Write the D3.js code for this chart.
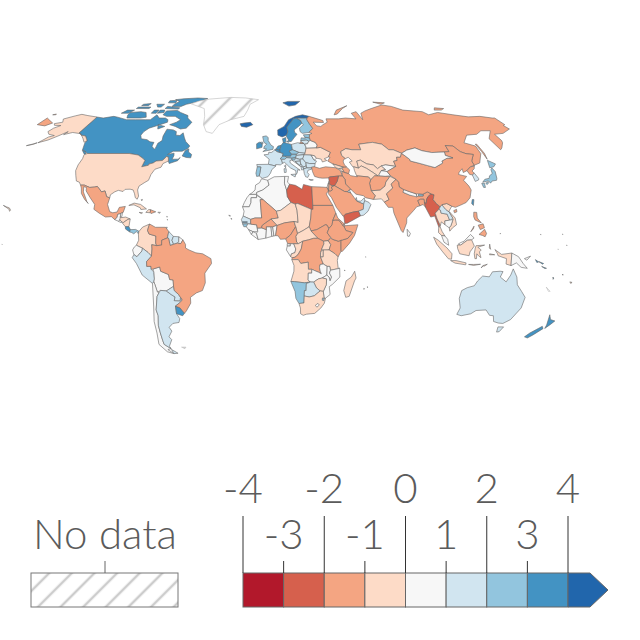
<!DOCTYPE html>
<html>
<head>
<meta charset="utf-8">
<script src="https://cdn.jsdelivr.net/npm/d3@7"></script>
<style>
  html, body { margin: 0; background: #fff; }
  text { font-family: Lato, sans-serif; font-weight: 300; fill: #5b5b5b; }
</style>
</head>
<body>
<div id="chart"></div>
<script>
// values (middle of the colour bin), null = no data
const americas = [
  ["Canada",3.5],["United States",-0.5],["Mexico",-1.5],["Guatemala",0.5],["Belize",0.5],["Honduras",-0.5],
  ["El Salvador",0.5],["Nicaragua",-0.5],["Costa Rica",3.5],["Panama",2.5],["Cuba",-0.5],["Jamaica",-0.5],
  ["Haiti",-0.5],["Dominican Republic",-1.5],["Puerto Rico",0.5],["Colombia",-0.5],["Venezuela",-1.5],
  ["Guyana",1.5],["Suriname",1.5],["French Guiana",0.5],["Ecuador",0.5],["Peru",1.5],["Bolivia",0.5],
  ["Chile",0.5],["Argentina",1.5],["Paraguay",1.5],["Uruguay",3.5],["Brazil",-1.5],["Greenland",null],["Falkland Islands",null]
];
const europe = [
  ["Iceland",4.5],["Svalbard",4.5],["Norway",4.5],["Sweden",3.5],["Finland",2.5],["Denmark",3.5],["United Kingdom",2.5],
  ["Ireland",3.5],["France",1.5],["Spain",1.5],["Portugal",2.5],["Belgium",3.5],["Netherlands",3.5],["Germany",3.5],
  ["Switzerland",2.5],["Austria",2.5],["Italy",1.5],["Poland",1.5],["Czechia",2.5],["Slovakia",1.5],["Hungary",1.5],
  ["Romania",1.5],["Moldova",0.5],["Bulgaria",1.5],["Serbia",1.5],["Croatia",1.5],["Bosnia",1.5],["Slovenia",2.5],
  ["Albania",1.5],["North Macedonia",1.5],["Montenegro",1.5],["Greece",1.5],["Lithuania",1.5],["Latvia",2.5],
  ["Estonia",2.5],["Belarus",0.5],["Ukraine",-0.5],["Russia",-1.5]
];
const asia = [
  ["Turkey",-1.5],["Georgia",-0.5],["Armenia",-0.5],["Azerbaijan",-1.5],["Kazakhstan",-0.5],["Uzbekistan",-0.5],
  ["Turkmenistan",-0.5],["Kyrgyzstan",0.5],["Tajikistan",0.5],["Afghanistan",-1.5],["Pakistan",-0.5],["Iran",-1.5],
  ["Iraq",-1.5],["Syria",-2.5],["Lebanon",-0.5],["Israel",-0.5],["Jordan",-1.5],["Saudi Arabia",-1.5],["Kuwait",1.5],
  ["United Arab Emirates",1.5],["Qatar",1.5],["Oman",1.5],["Yemen",-2.5],["India",-1.5],["Nepal",0.5],["Bhutan",2.5],
  ["Bangladesh",-1.5],["Sri Lanka",0.5],["Myanmar",-2.5],["Thailand",-0.5],["Laos",1.5],["Vietnam",-0.5],["Cambodia",0.5],
  ["Malaysia",0.5],["Indonesia",-0.5],["East Timor",-0.5],["Philippines",-1.5],["Taiwan",3.5],["China",-1.5],["Mongolia",0.5],
  ["North Korea",-1.5],["South Korea",1.5],["Japan",2.5]
];
const africa = [
  ["Morocco",0.5],["Western Sahara",0.5],["Algeria",0.5],["Tunisia",0.5],["Libya",-2.5],["Egypt",-1.5],["Mauritania",0.5],
  ["Senegal",1.5],["Gambia",3.5],["Guinea-Bissau",2.5],["Guinea",0.5],["Sierra Leone",0.5],["Liberia",0.5],["Ivory Coast",0.5],
  ["Ghana",0.5],["Togo",0.5],["Benin",0.5],["Burkina Faso",-1.5],["Mali",-1.5],["Niger",-0.5],["Nigeria",-1.5],["Chad",-0.5],
  ["Sudan",-1.5],["South Sudan",-1.5],["Central African Republic",-0.5],["Cameroon",-1.5],["Equatorial Guinea",0.5],["Gabon",0.5],
  ["Congo",-0.5],["DR Congo",-1.5],["Uganda",-0.5],["Kenya",-1.5],["Somalia",-1.5],["Ethiopia",-1.5],["Eritrea",-1.5],["Djibouti",-1.5],
  ["Tanzania",-0.5],["Rwanda",-0.5],["Angola",-0.5],["Zambia",0.5],["Malawi",0.5],["Mozambique",0.5],["Zimbabwe",-0.5],
  ["Namibia",2.5],["Botswana",1.5],["South Africa",-0.5],["Lesotho",0.5],["Eswatini",2.5],["Madagascar",-0.5],["Cape Verde",0.5]
];
const oceania = [
  ["Australia",1.5],["New Zealand",3.5],["Papua New Guinea",0.5],["Solomon Islands",3.5],["Vanuatu",3.5],["Fiji",-0.5],["New Caledonia",null],
  ["Small islands",0.5]
];
const tickValues = [-4,-3,-2,-1,0,1,2,3,4];
const binColors = ["#b2182b","#d6604d","#f4a582","#fddbc7","#f7f7f7","#d1e5f0","#92c5de","#4393c3","#2166ac"];
const noDataLabel = "No data";

// country outlines, "lon,lat lon,lat ..." one string per ring
const outlines = {
"Canada":["-141,69.6 -135,69 -128,70 -124,69.5 -115,68 -108,68 -100,68 -96,68 -94,71 -90,69 -85,69 -82,68 -81,66.5 -87,64.5 -92,63 -94,61 -94.5,59 -92.5,57 -88,56.5 -85,55.3 -82,55 -82,52.9 -79.5,51.3 -79,52 -79,54.5 -77,56 -78,58.5 -78,62.4 -73,62 -70,61 -69,59 -66,58.8 -64.5,60.3 -62,57.5 -60,55.5 -56,53 -57,51.5 -60,50.2 -66,50.2 -69,48.5 -65,49.2 -64.5,47.8 -65,46 -61,46 -60,46.9 -61,45.2 -66,43.7 -67,45 -67.8,47 -69.2,47.4 -71,45.3 -75,45 -76.5,44 -79,43.4 -79,42.8 -83,42 -82.5,45.3 -84.5,46.5 -88.5,48.2 -95,49 -123,49 -125,50 -128,51 -130,54.5 -130,56 -134,58.5 -137.5,59 -141,60.3",
"-62,66 -64,63 -68,62.5 -73,64 -78,65 -74,66.5 -72,68 -78,70 -85,70 -89,71 -89,73.5 -80,73.8 -76,72.5 -68,70.5 -67,69 -62,66.5","-105,69 -116,69 -118,71 -118,72.5 -110,73 -105,72.5 -101,69.5","-125,72 -123,74 -117,74 -119,72","-88,76.5 -80,76.5 -77,78 -72,79 -65,81 -62,82.5 -72,83 -85,82.3 -92,81.5 -86,80 -88,78","-92,75 -80,74.7 -80,75.6 -92,76.5","-95,72 -90,72.5 -91,74 -95,74","-117,75 -106,75 -106,76 -117,76","-95,79 -88,79 -90,81 -96,80.5","-59,47.7 -56,46.9 -53,46.7 -53,48.5 -55.5,49.8 -56,51.5 -58,50.5","-128,50.8 -125,50 -123.5,48.5 -125,48.8","-87,65 -81,64 -85,62.5","-100,72 -96,72 -96,74 -100,74","-104,78 -100,76 -97,76 -97,78","-116,77 -110,77 -110,78.5 -116,78"],
"United States":["-123,49 -95,49 -88.5,48.2 -84.5,46.5 -82.5,45.3 -83,42 -79,42.8 -79,43.4 -76.5,44 -75,45 -71,45.3 -69.2,47.4 -67.8,47 -67,45 -70,43.7 -70.5,41.8 -74,40.7 -75.5,38 -76,35 -78,33.9 -81,32 -81.3,30 -80,26.8 -80.5,25.2 -81.8,26 -82.7,28 -84,30 -86,30.4 -89,30.3 -90,29.2 -93,29.8 -95,29 -97.2,27.5 -97.2,25.9 -99.2,26.5 -101,29.5 -103,29 -104.8,30.5 -106.5,31.8 -108.2,31.5 -111,31.3 -114.8,32.5 -117.1,32.5 -118.5,34 -120.6,34.6 -122.5,37.5 -124,40 -124.5,43 -124,46.3 -124.7,48.4",
"-141,69.6 -141,60.3 -137.5,59 -134,58.5 -130,56 -131,55 -134,57 -139,59.8 -146,60.5 -151,59.3 -150,61 -154,58.5 -158,56.3 -163,54.8 -160,58 -157,58.8 -162,59.5 -165,61 -164,63 -161,64.5 -166,64.6 -168,65.6 -163,66.5 -166,68.4 -160,70.3 -156.5,71.3 -150,70.5","-169,53.2 -165,54 -163.5,54.8 -166,54","-160,22 -158,21.3 -156,20.7 -155,19.5 -155.5,19 -156,20"],
"Mexico":["-117.1,32.5 -114.8,32.5 -111,31.3 -108.2,31.5 -106.5,31.8 -104.8,30.5 -103,29 -101,29.5 -99.2,26.5 -97.2,25.9 -97.8,22.5 -95.9,18.8 -94,18.2 -91.5,18.6 -90.5,21 -87,21.5 -87.8,18.4 -89.1,17.9 -91,17.3 -91,16 -92.2,14.6 -94.5,16.2 -98,16 -102,18 -105.5,20 -105.5,22.5 -109,26 -112.5,29.5 -113,31.3 -114.8,31.7 -114,29 -110.5,24 -109.5,23 -112,25 -115,28.2 -116,31"],
"Guatemala":["-92.2,14.6 -91,16 -91,17.3 -89.1,17.9 -89.2,15.9 -88.3,15.7 -89.3,14.4 -90,13.8"],
"Belize":["-89.1,17.9 -88.2,18.4 -88.3,16.2 -89.2,15.9"],
"Honduras":["-89.2,15.9 -88.3,15.7 -86,16 -83.2,15 -84.5,14.8 -87,13.2 -87.7,13.3 -89.3,14.4"],
"El Salvador":["-90,13.8 -89.3,14.4 -87.7,13.3 -88.8,13.2"],
"Nicaragua":["-87,13.2 -84.5,14.8 -83.2,15 -83.6,11 -85.7,11 -87.5,12.8"],
"Costa Rica":["-85.7,11 -83.6,11 -82.6,9.5 -83,8.3 -85.5,9.8"],
"Panama":["-83,8.3 -82.6,9.5 -79.5,9.6 -77.5,8.6 -77.8,7.3 -79,8.5 -80.5,7.3 -81.8,8"],
"Cuba":["-85,22 -82,23.2 -78,22.5 -74.2,20.2 -77.5,19.9 -78,20.8 -82,22.3"],
"Jamaica":["-78.3,18.4 -76.3,18.2 -77,17.8"],
"Haiti":["-74.4,18.4 -72.8,19.9 -71.7,19.8 -71.7,18.2"],
"Dominican Republic":["-71.7,19.8 -68.5,18.7 -71.2,17.8 -71.7,18.2"],
"Puerto Rico":["-67.2,18.5 -65.7,18.4 -66.5,17.9"],
"Colombia":["-77.5,8.6 -75.5,10.8 -71.5,12.4 -72,11 -72.5,9 -71.5,7.2 -67.5,6.2 -67.5,2.5 -66.9,1.2 -69.8,1.7 -69.6,-0.5 -70,-4.2 -72,-2.3 -75.2,-0.1 -78.8,1.4 -77.5,4 -77.8,7.3"],
"Venezuela":["-71.5,12.4 -68,10.7 -62,10.7 -60,8.5 -60.7,5.2 -64,4 -64,1.5 -66.9,1.2 -67.5,2.5 -67.5,6.2 -71.5,7.2 -72.5,9 -72,11"],
"Guyana":["-60,8.5 -57.2,6 -58,4 -57,1.9 -59,1.3 -60,5 -60.7,5.2"],
"Suriname":["-57.2,6 -54,5.8 -54,3.5 -55,2.5 -57,1.9 -58,4"],
"French Guiana":["-54,5.8 -51.6,4.2 -52.8,2.3 -54,2.3 -54,3.5"],
"Ecuador":["-78.8,1.4 -75.2,-0.1 -75.5,-1.5 -78.5,-4.5 -80.3,-3.4 -81,-1 -80,0.5"],
"Peru":["-80.3,-3.4 -78.5,-4.5 -75.5,-1.5 -75.2,-0.1 -72,-2.3 -70,-4.2 -73,-7 -73,-9.5 -70.5,-9.5 -70.5,-11 -69,-12.5 -69,-16 -69.5,-17.5 -70.4,-18.3 -76,-14 -79,-8 -81.3,-5"],
"Bolivia":["-69.5,-10.9 -65.4,-9.8 -65,-12 -60.5,-13.7 -60,-16.3 -58,-16.5 -58,-19.8 -62.6,-22.2 -66,-21.9 -68,-22.8 -69,-19 -69.5,-17.5 -69,-16 -69,-12.5"],
"Chile":["-69.5,-17.5 -69,-19 -68,-22.8 -67,-23 -68.5,-25 -70.5,-32 -70,-35 -71.5,-40 -71.8,-44 -72,-48 -72,-50 -68.5,-52.3 -71,-52.8 -68,-55 -72,-54 -75.5,-50 -74,-44 -73.5,-38 -71.5,-30 -70.4,-18.3"],
"Argentina":["-66,-21.9 -62.6,-22.2 -60,-24 -57.7,-25.3 -58.5,-27.2 -55,-27.3 -54.5,-25.5 -54,-26 -53.7,-27 -55.7,-28.5 -58.2,-30 -58.4,-34 -57,-36.5 -58,-38.5 -62,-39 -65,-41 -64,-43 -67,-46 -65.8,-47.5 -69,-51 -68.5,-52.3 -72,-50 -72,-48 -71.8,-44 -71.5,-40 -70,-35 -70.5,-32 -68.5,-25 -67,-23","-68.5,-52.7 -65,-54.8 -68,-55"],
"Paraguay":["-58,-19.8 -57.8,-22 -55.5,-24 -54.5,-25.5 -55,-27.3 -58.5,-27.2 -57.7,-25.3 -60,-24 -62.6,-22.2"],
"Uruguay":["-58.2,-30 -55.7,-30.9 -53.4,-33.7 -54.8,-35 -58.4,-34"],
"Brazil":["-60,5 -59,1.3 -57,1.9 -55,2.5 -54,2.3 -52.8,2.3 -51.6,4.2 -50,1.8 -50,0 -48,-1 -44,-2.5 -40,-3 -35.2,-5.5 -34.9,-8 -39,-13 -39,-18 -41,-22 -44.7,-23.2 -48.5,-25.5 -48.7,-28.5 -52,-32.5 -53.4,-33.7 -55.7,-30.9 -58.2,-30 -55.7,-28.5 -53.7,-27 -54,-26 -54.5,-25.5 -55.5,-24 -57.8,-22 -58,-19.8 -58,-16.5 -60,-16.3 -60.5,-13.7 -65,-12 -65.4,-9.8 -69.5,-10.9 -70.5,-11 -70.5,-9.5 -73,-9.5 -73,-7 -70,-4.2 -69.6,-0.5 -69.8,1.7 -66.9,1.2 -64,1.5 -64,4 -60.7,5.2"],
"Greenland":["-73,78.3 -68,80.3 -60,82 -40,83.5 -25,83 -12,81.5 -19,78 -20,74 -22,70 -32,68 -40,65 -43,60 -48,61 -52,65 -54,70 -58,75"],
"Falkland Islands":["-61,-51.5 -58,-51.5 -59,-52.3"],
"Iceland":["-24,65.5 -21,66 -16,66.4 -14,65 -18.5,63.5 -22.5,64"],
"Svalbard":["11,79 16,80 27,80 22,77.5 16,76.7"],
"Norway":["5,59 5,62 10,64 14,68 20,70 26,71 31,70 29,69 25.5,68.9 20.5,69 18,68.5 15,66 12,63.5 12.5,61 11.2,59 8,58"],
"Sweden":["11.2,59 12.5,61 12,63.5 15,66 18,68.5 20.5,69 23.5,67.5 24,65.8 21,64 17.3,62 17.5,60.5 19,59.5 16.5,57.5 14.3,55.5 13,55.4 11,58.5"],
"Finland":["23.5,67.5 20.5,69 25.5,68.9 29,69 28.5,68 30,65 31.5,62.8 27.8,60.5 23,60 21.5,61 21.5,63 25,65 24,65.8"],
"Denmark":["8.6,54.9 8.2,57 10.6,57.7 10.5,55.5 9.8,54.8","11,55.5 12.5,56 12.3,55"],
"United Kingdom":["-5.5,50 1.3,51.2 1.7,52.7 0,53.5 -2,56 -2,57.7 -3.5,58.6 -6,58.2 -5,55 -3,54 -4.5,53 -5,51.7 -3,51.4","-6,55.2 -5.5,54.4 -7,54.3 -7.4,55"],
"Ireland":["-7.4,55 -7,54.3 -6,54 -6.2,52.3 -9.8,51.5 -10,54.2 -8.2,55.1"],
"France":["2.5,51 4.2,50 8.2,49 7.6,47.5 6.1,46.2 7,45.5 7.5,43.8 6,43 3,43.2 3.1,42.4 -1.7,43.3 -1.2,46 -4.7,48.3 -1.6,48.6 -1.5,49.7 0.1,49.5 1.6,50.2","8.6,42.5 9.5,43 9.4,41.5"],
"Spain":["-9.2,43.2 -1.7,43.3 3.1,42.4 0.5,40.5 -0.3,38.7 -2,36.8 -5.4,36 -7.4,37.2 -7,39 -6.5,41.9 -8.8,42"],
"Portugal":["-8.8,42 -6.5,41.9 -7,39 -7.4,37.2 -9,37 -9.5,38.7"],
"Belgium":["2.5,51 3.4,51.4 6,50.8 6.1,49.6 4.2,50"],
"Netherlands":["3.4,51.4 4.8,53 7,53.4 6,50.8"],
"Germany":["6,50.8 7,53.4 8.6,54.9 9.8,54.8 14.2,53.9 14.6,51 12.2,50.3 13.8,48.7 13,47.5 7.6,47.5 8.2,49 6.1,49.6"],
"Switzerland":["7.6,47.5 9.6,47.5 10.4,46.8 9,45.9 7,45.9 6.1,46.2"],
"Austria":["9.6,47.5 13,47.5 13.8,48.7 17,48.7 16.2,46.8 13.7,46.5 10.4,46.8"],
"Italy":["7,45.5 7,45.9 9,45.9 10.4,46.8 13.7,46.5 13.7,45.6 12.3,45.2 12.5,44 16,41.8 18.5,40.2 17,40.5 16.6,38.9 15.8,38 15.7,40 12.5,41.4 10.5,42.9 8.8,44.4 7.5,43.8","12.5,38 15.6,38.2 15.1,36.7","8.3,41 9.7,41 9.6,39.1 8.5,39"],
"Poland":["14.2,53.9 18.5,54.8 23,54.4 24,52.5 23.6,51 22.8,49.1 19,49.4 14.6,51"],
"Czechia":["12.2,50.3 14.6,51 18.8,49.6 17,48.7 13.8,48.7"],
"Slovakia":["18.8,49.6 22.8,49.1 22.1,48.4 17,48 17,48.7"],
"Hungary":["17,48 22.1,48.4 21,46.2 18.8,45.9 16.2,46.8"],
"Romania":["22.1,48.4 26.6,48.3 28.2,45.5 29.7,45 28.6,43.7 25,43.7 22.5,44.2 20.8,46.1"],
"Moldova":["26.6,48.3 29,47.8 30,46.4 28.2,45.5"],
"Bulgaria":["22.5,44.2 25,43.7 28.6,43.7 28,42 26,41.4 22.9,41.4"],
"Serbia":["19,46 20.8,46.1 22.5,44.2 22.5,42.4 20.6,41.9 19.2,43.5 19,45"],
"Croatia":["13.7,45.5 16.2,46.4 19,45.9 19,45 15.8,44.8 18.5,42.5"],
"Bosnia":["15.8,44.8 19,45 19.2,43.5 18.5,42.8"],
"Slovenia":["13.7,45.6 13.7,46.5 16.2,46.8 15.5,45.5"],
"Albania":["19.3,42.2 20.6,41.9 20.8,40.5 19.4,40.4"],
"North Macedonia":["20.6,41.9 22.5,42.4 22.9,41.4 20.8,40.9"],
"Montenegro":["18.5,42.5 19.2,43.5 20,42.8 19.3,42"],
"Greece":["20.8,40.5 20.8,40.9 22.9,41.4 26,41.4 26,40.8 23.5,40.2 23,39 24,38 23,36.5 21.7,36.8 21,38.5","23.5,35.5 26.3,35.2 24.7,34.9"],
"Lithuania":["21,56 25,56.4 26.6,55.7 25.5,54.3 23.5,54 23,54.4 21,55.3"],
"Latvia":["21,56 21.6,57.5 24.5,57.3 24.3,57.9 27.5,57.5 28,56 26.6,55.7 25,56.4"],
"Estonia":["23.5,59.2 28,59.4 27.5,57.5 24.3,57.9"],
"Belarus":["23.5,54 25.5,54.3 26.6,55.7 28,56 31,55 32,53.5 31,52 24,51.8 24,52.5"],
"Ukraine":["24,51.8 31,52 34,52.3 40,49.6 38,47.2 35,46.2 36.5,45.3 33.5,44.5 33,46 30.7,46.4 30,46.4 29,47.8 26.6,48.3 22.1,48.4 22.8,49.1 23.6,51"],
"Russia":["31,70 41,67.5 41,66.3 33,66.5 35,64.3 38,64 40,65 44,66.5 44,68.5 54,68.5 60,69 68,68.5 67,72 72,73 73,68 75,72 80,73.5 87,75 100,77.5 107,76.5 113,74 128,73 130,71 140,72.5 150,71 160,69.7 170,70 178,69 180,69 180,65 178,64.5 179,62.5 170,60 163,59.5 163,56 162,54.8 158,52 156,51 155.5,57 163,61.5 156,61.5 150,59.5 142,59 135,54.8 141,53 140.5,49 135.5,44 131,42.8 130.7,42.3 131,45 135,48.5 130.5,48.9 127.5,50 125.5,53 120.5,53.3 120,50 116.7,49.8 113,49.7 108,49.5 102,50.5 98.5,52 92,50.8 87.5,49.1 83,51 80,51 77,54 71,55 61,54 61,51 55,51 51,51.6 47,50 47,48 49,46.3 47.5,45.7 47,44.5 47.5,43 48.5,41.8 46.5,41.8 40,43.5 37,45 39,47 38,47.2 40,49.6 34,52.3 31,52 32,53.5 31,55 28,56 27.5,57.5 28,59.4 30,60 27.8,60.5 31.5,62.8 30,65 28.5,68 29,69",
"52,71 56,74 68,77 62,75 55,71.5","142,46 143,49 143,54 142,54 142,50","-180,69 -175,67.5 -170,66 -173,64.3 -180,65","-180,71 -178,71.5 -177.5,71","95,79.5 105,79 100,78","20,54.4 22.8,54.4 21,55.3","140,74 143,75.5 150,75 146,74"],
"Turkey":["26,41.9 28,42 31,41.2 35,42 41.5,41.5 44,40 44.8,37.2 42.3,37.2 36.5,36.7 36,36.2 32,36.1 30,36.3 27.3,37 26.3,39.5"],
"Georgia":["40,43.5 46.5,41.8 43.5,41 41.5,41.5"],
"Armenia":["43.5,41 45.5,41 46.5,39 44.8,39.7"],
"Azerbaijan":["46.5,41.8 48.5,41.8 50,40.4 48.9,38.4 46.5,39 45.5,41"],
"Kazakhstan":["47,50 51,51.6 55,51 61,51 61,54 71,55 77,54 80,51 83,51 87.5,49.1 85.5,47 83,47 82.5,45.3 80,44.9 80.2,42.2 74,43 71,42.5 68,41 66,43 62,43.5 58.5,45.5 56,45 56,41.3 53,42 52.5,42 51,44.5 53,45 51,47 49,46.3 47,48"],
"Uzbekistan":["56,41.3 56,45 58.5,45.5 62,43.5 66,43 68,41 71,42.5 73,40.5 70,40 68,38 67,37.3 64.5,39 61,41.2 58,42.5"],
"Turkmenistan":["53,42 56,41.3 58,42.5 61,41.2 64.5,39 67,37.3 65,37.3 62,35.3 61,36.7 54,37.3 53.8,37 53,40"],
"Kyrgyzstan":["71,42.5 74,43 80.2,42.2 73.5,39.5 70,40 73,40.5"],
"Tajikistan":["68,38 70,40 73.5,39.5 75,37.3 71.5,37 67.8,37.2"],
"Afghanistan":["62,35.3 65,37.3 67.8,37.2 71.5,37 74.5,37 71,34 70,32 66.5,29.9 61,29.6 60.8,33.5"],
"Pakistan":["61,29.6 66.5,29.9 70,32 71,34 74.5,37 77.8,35.5 74,33 74.5,31 70,28 71,25 68,23.7 66.5,25.4 61.6,25.1 63,27"],
"Iran":["44.8,39.7 46.5,39 48.9,38.4 50,37.4 54,36.8 54,37.3 61,36.7 62,35.3 60.8,33.5 61,29.6 63,27 61.6,25.1 57,26 56,27 51.5,27.8 48.8,30.2 46,33 46,35.5 44.8,37.2"],
"Iraq":["42.3,37.2 44.8,37.2 46,35.5 46,33 48.8,30.2 47.7,30 46.5,29.1 44.7,29.2 39,32.2 41,34.5"],
"Syria":["36,36.2 36.5,36.7 42.3,37.2 41,34.5 39,32.2 36.7,32.4 35.8,33.3 36,35"],
"Lebanon":["35.1,33.1 35.8,33.3 36.4,34.6 36,34.6"],
"Israel":["35.1,33.1 35.8,33.3 35,29.5 34.3,31.3"],
"Jordan":["35.8,33.3 36.7,32.4 39,32.2 37,31.5 37.5,30 36,29.3 35,29.5"],
"Saudi Arabia":["35,29.5 36,29.3 37.5,30 37,31.5 39,32.2 44.7,29.2 46.5,29.1 48.4,28.5 50.2,26 51.5,24.3 55.5,22.7 55,20 52,19 49,18.6 44,17.4 43.1,16.5 42.7,16.4 39,21 36.5,26 34.7,28.1"],
"Kuwait":["46.5,29.1 47.7,30 48.4,28.5"],
"United Arab Emirates":["51.5,24.3 54,24.2 56.3,26 56.3,24.5 55.5,22.7"],
"Qatar":["50.8,25 51.5,26.1 51.6,24.6"],
"Oman":["56.3,24.5 58.7,23.6 59.8,22.4 57.7,19 55,17 53,16.6 52,19 55,20 55.5,22.7"],
"Yemen":["43.1,16.5 44,17.4 49,18.6 52,19 53,16.6 45,12.8 43.5,12.7"],
"India":["77.8,35.5 74,33 74.5,31 70,28 71,25 68,23.7 70,21 72.7,21 73,18 74.5,14 76.5,9 77.5,8 80,13 80.3,15.5 85,19.5 87,21.3 89,21.8 88.2,24.5 90,25.2 92,25.2 92,23.5 93,23 93.5,25 94.7,26.5 97,28 95,29 92,27.8 92,26.9 89,26.9 88,26.4 88,28 84,27.3 80.2,28.8 81,30.2 78.7,31.5 79,34"],
"Nepal":["80.2,28.8 84,27.3 88,26.4 88,28 84,29.2 81,30.2"],
"Bhutan":["89,26.9 92,26.9 92,27.8 89.5,28"],
"Bangladesh":["88.2,24.5 89,21.8 91,22.5 92.3,21 92,23.5 92,25.2 90,25.2"],
"Sri Lanka":["80,9.7 81.8,7.5 81,6 80,6.2"],
"Myanmar":["92.3,20.8 94.5,16 97,16.5 98,13 99,10 99.5,12 98.2,15 97.5,18 100,20 101,21.3 99,23 97.5,25 98.7,27.5 97,28 94.7,26.5 93.5,25 93,23 92,23.5"],
"Thailand":["100,20 97.5,18 98.2,15 99.5,12 98.5,10 98.3,8 100,6.5 102,6.2 100.5,8.5 99.5,11 100.5,13.5 102.5,12 102.6,14 105.5,14.4 104.5,17.5 101,18 100.9,19.5"],
"Laos":["100,20 101,21.3 102.2,22.4 104,20 106,18.5 107.5,15.5 106,14.4 105.5,14.4 104.5,17.5 101,18 100.9,19.5"],
"Vietnam":["102.2,22.4 105.3,23 108,21.6 105.8,19 108.9,15.5 109.3,12 106.7,10.4 105,8.7 104.8,10.4 106,11.7 107.5,14.7 107.5,15.5 106,18.5 104,20"],
"Cambodia":["102.5,12 104.8,10.4 106,11.7 107.5,14.7 105.5,14.4 102.6,14"],
"Malaysia":["100,6.5 102,6.2 103.5,4.5 104,1.4 101.3,3","109.6,2 111,1.5 115,4 117.5,4.2 119,5.2 117,7 113,3.5 111,2.8"],
"Indonesia":["95.3,5.6 98,4 103,0 106,-3 105.8,-5.8 104,-5.6 100.5,-2 97,2","105.3,-6.5 108.5,-6.5 114.5,-7.7 114.3,-8.7 108,-7.8","109,1.5 111,1.5 115,4 117.5,4.2 119,1 116.5,-2 116,-4 110.5,-3 109.2,-0.3","119.5,0 120,1.2 125,1.5 121,0.4 123,-1 122,-2 123,-5 121.5,-4 120.5,-3 120.4,-5.5 119.5,-5.5 119,-3","131,-0.8 135,-3.3 141,-2.6 141,-9.1 138,-8.3 138,-5.5 133,-4 132.5,-2.8","116,-8.5 119,-8.5 123,-8.4 119,-9","128,2 128.5,-0.7 127.7,0","128,-3 131,-3.5 128,-3.5","124,-9.5 124.8,-9 123.6,-10.3"],
"East Timor":["124.8,-9 127,-8.4 125,-9.5"],
"Philippines":["120.5,18.5 122.2,18.4 122,15.5 124,13 122,13.8 120.5,14.5 120,16.2","122,7 124,8.5 125.5,9.7 126.5,7.5 125.5,5.8 124,6.5","122,11.8 125,12.5 125.5,10.5 123,9.5","117.3,8.4 119.5,11.3 119,10"],
"Taiwan":["121,25 122,25 121,22 120.2,23"],
"China":["73.5,39.5 80.2,42.2 80,44.9 82.5,45.3 83,47 85.5,47 87.5,49.1 91,46 91,45 95.5,44 101,42.6 105,41.6 111.5,44 111.5,45 116,46.5 120,46.7 116,48 116.7,49.8 120,50 120.5,53.3 125.5,53 127.5,50 130.5,48.9 135,48.5 131,45 131,42.8 128,42 124.4,40 121.5,39 122,41 119,39.2 118,38 122.5,37 119.5,35 121.5,32 122,30 120,26 117,23.5 113.5,22.2 110,21 108,21.6 105.3,23 102.2,22.4 101,21.3 99,23 97.5,25 98.7,27.5 97,28 95,29 92,27.8 89.5,28 88,28 84,29.2 81,30.2 78.7,31.5 79,34 77.8,35.5 75,37.3","108.7,19.3 110.5,20 110.5,18.7 109,18.2"],
"Mongolia":["87.5,49.1 92,50.8 98.5,52 102,50.5 108,49.5 113,49.7 116.7,49.8 116,48 120,46.7 116,46.5 111.5,45 111.5,44 105,41.6 101,42.6 95.5,44 91,45 91,46"],
"North Korea":["124.4,40 128,42 130.7,42.3 129.7,41 127.5,39.8 128.3,38.6 126.5,37.8 125,38"],
"South Korea":["126.5,37.8 128.3,38.6 129.4,36 129,35.2 126.5,34.4 126.5,36.7"],
"Japan":["130.9,34 133,35.5 136,36 137,37.3 139.5,38.5 140,40.5 141.3,41.4 142,39.5 140.8,36 140,35 137,34.6 135.5,33.5 134.8,34.7","140,41.5 141.6,45.4 145.3,43.5 143,42","130,33.4 131.7,33.5 131.3,31.3 130.2,31.3","132.5,33.5 134.5,34.3 134,33.3 133,32.8"],
"Morocco":["-5.9,35.8 -2,35 -1.2,32.5 -5,30 -8.7,28.7 -8.7,27.7 -13,27.7 -11.5,28.5 -9.7,30 -9.5,32.5 -7,33.8"],
"Western Sahara":["-13,27.7 -8.7,27.7 -8.7,26 -12,26 -12,23.5 -13,21.3 -17,21.3 -16,23.5 -14.5,26"],
"Algeria":["-2,35 2,36.8 8.6,37 8.3,33.5 9.5,30 9.9,26.5 12,23.5 5.8,19.5 3.2,19 -4.8,25 -8.7,27.7 -8.7,28.7 -5,30 -1.2,32.5"],
"Tunisia":["8.6,37 11,37 10.2,34 11.5,33 10,30.5 9.5,30 8.3,33.5"],
"Libya":["11.5,33 15,32.4 19,30.3 20,32.8 25,31.7 25,20 24,19.5 24,20 16,23 14.5,22.7 12,23.5 9.9,26.5 9.5,30 10,30.5"],
"Egypt":["25,31.7 31,31.5 34.3,31.3 34.9,29.5 33.5,28 34,27 37,22 25,22"],
"Mauritania":["-17,21.3 -13,21.3 -12,23.5 -12,26 -8.7,26 -8.7,27.3 -4.8,25 -6.5,25 -5.5,15.5 -9.5,15.5 -12,14.8 -16.5,16.5 -16,19"],
"Senegal":["-16.5,16.5 -12,14.8 -12,12.5 -16.7,12.4 -17.5,14.7"],
"Gambia":["-16.8,13.6 -14,13.6 -14,13.2 -16.8,13.2"],
"Guinea-Bissau":["-16.7,12.4 -13.7,12.5 -13.7,11 -16,11"],
"Guinea":["-13.7,12.5 -11,12.2 -8.5,12 -7.8,8.5 -10.5,8.4 -13.2,9.5 -14.5,11"],
"Sierra Leone":["-13.2,9.5 -10.5,8.4 -11.5,7"],
"Liberia":["-11.5,7 -10.5,8.4 -8.5,7.6 -7.5,4.4"],
"Ivory Coast":["-8.5,7.6 -7.8,8.5 -8,10.3 -5.5,10.4 -2.7,9.5 -3,5.1 -7.5,4.4"],
"Ghana":["-2.7,9.5 -2.8,11 0,11 0.5,6 -3,5.1"],
"Togo":["0,11 1,11 1.7,6.2 0.5,6"],
"Benin":["1,11 3.6,11.7 2.7,6.4 1.7,6.2"],
"Burkina Faso":["-5.5,10.4 -5.5,11.5 -3,13.2 0,15 3.4,11.9 1,11 0,11 -2.8,11 -2.7,9.5"],
"Mali":["-12,14.8 -9.5,15.5 -5.5,15.5 -6.5,25 -4.8,25 3.2,19 4.3,15.5 0,15 -3,13.2 -5.5,11.5 -5.5,10.4 -8,10.3 -8.5,12 -11,12.2 -12,12.5"],
"Niger":["4.3,15.5 3.2,19 5.8,19.5 12,23.5 14.5,22.7 15.5,19.5 16,13.2 13.6,13.7 8,13 3.8,11.7 3.4,11.9 0,15"],
"Nigeria":["2.7,6.4 3.6,11.7 3.8,11.7 8,13 13.6,13.7 14.5,11 11.5,6.8 8.6,4.7 5.5,4.5 4.2,6.3"],
"Chad":["14.5,22.7 16,23 24,20 24,19.5 23.5,15.5 22.5,11 18.8,9 15.5,7.5 14.5,11 13.6,13.7 16,13.2 15.5,19.5"],
"Sudan":["24,20 25,20 25,22 37,22 38.5,18 36.5,14.3 36,12 34,10 33,11.8 32,12 27,9.5 23.5,8.8 22.5,11 23.5,15.5 24,19.5"],
"South Sudan":["23.5,8.8 27,9.5 32,12 33,11.8 34,10 33,7.8 35,5.5 33.5,3.8 30.8,3.5 27.4,5"],
"Central African Republic":["14.5,6 15.5,7.5 18.8,9 22.5,11 23.5,8.8 27.4,5 25,5 22,4.2 18.6,3.5 16,2.2 15,3"],
"Cameroon":["8.6,4.7 11.5,6.8 14.5,11 15.5,7.5 14.5,6 15,3 16,2.2 9.8,2.2"],
"Equatorial Guinea":["9.5,2.2 11.3,2.2 11.3,1 9.5,1"],
"Gabon":["9.5,1 11.3,1 11.3,2.2 13.3,2.2 14.5,-0.5 14,-2.4 12,-3 11.5,-4.5 9,-1"],
"Congo":["11.5,-4.5 12,-3 14,-2.4 14.5,-0.5 13.3,2.2 16,2.2 18.6,3.5 17.7,-0.5 15.8,-3.5 14,-4.8 12.4,-5"],
"DR Congo":["12.2,-6 12.4,-5 14,-4.8 15.8,-3.5 17.7,-0.5 18.6,3.5 22,4.2 25,5 27.4,5 30.8,3.5 31,2.2 29.7,-0.5 29,-2.5 29,-4.5 30.7,-8.3 28.9,-8.5 28.5,-10 29,-12 29.7,-13.3 28,-12.5 26,-11.8 24,-11 22,-11 21.8,-7.3 17.5,-8 16,-6"],
"Uganda":["30.8,3.5 33.5,3.8 35,1.8 34,-1 29.7,-1.2 29.7,-0.5 31,2.2"],
"Kenya":["33.5,3.8 35,5 36,4.5 39.5,3.5 41,4 41,-1.7 39.3,-4.6 37.5,-3 34,-1 35,1.8"],
"Somalia":["41,-1.7 41,4 42,4.2 45,5 48,8 44,9 43,11 43.3,11.5 51.2,12 49,6.5 46,2.5 41.7,-1.8"],
"Ethiopia":["36.5,14.3 38,14.5 40,14.5 42.5,11.5 43,11 44,9 48,8 45,5 42,4.2 41,4 39.5,3.5 36,4.5 35,5.5 33,7.8 34,10 36,12"],
"Eritrea":["38.5,18 39.5,15.5 43,12.6 42.5,11.5 40,14.5 38,14.5 36.5,14.3"],
"Djibouti":["42.5,11.5 43.4,12.7 43.3,11.5 43,11"],
"Tanzania":["29,-4.5 30.5,-4.5 30.5,-1 34,-1 37.5,-3 39.3,-4.6 38.9,-6.5 39.5,-10.5 40.4,-10.5 35,-11.5 34.5,-9.5 33,-9.5 30.7,-8.3"],
"Rwanda":["29,-2.5 29.7,-1.2 30.5,-1 30.5,-4.5 29,-4.5"],
"Angola":["12.2,-6 16,-6 17.5,-8 21.8,-7.3 22,-11 24,-11 24,-13 22,-13 22,-16.5 23.3,-17.6 20,-18 14,-17.4 11.8,-17.3 13.5,-12 13.5,-9"],
"Zambia":["24,-11 26,-11.8 28,-12.5 29.7,-13.3 29,-12 28.5,-10 28.9,-8.5 30.7,-8.3 33,-9.5 33,-14 30.3,-15.5 28,-16 25.3,-17.6 23.3,-17.6 22,-16.5 22,-13 24,-13"],
"Malawi":["33,-9.5 34.5,-9.5 35,-11.5 34.5,-13 35.8,-15 35,-17 34.3,-15 33,-14"],
"Mozambique":["30.3,-15.5 33,-14 34.3,-15 35,-17 35.8,-15 34.5,-13 35,-11.5 40.4,-10.5 40.7,-15 36.5,-18.8 34.7,-20 35.5,-24 32.8,-26 32,-26 31.3,-22.4 32.9,-19 32.9,-16"],
"Zimbabwe":["25.3,-17.6 28,-16 30.3,-15.5 32.9,-16 32.9,-19 31.3,-22.4 29.4,-22.2 27,-20.5"],
"Namibia":["11.8,-17.3 14,-17.4 20,-18 23.3,-17.6 21,-18.4 21,-22 20,-22 20,-28.4 17,-28.7 15,-26 14.4,-22.5"],
"Botswana":["21,-18.4 23.3,-17.6 25.3,-17.6 27,-20.5 29.4,-22.2 26,-24.7 23,-25.3 20,-24.8 20,-22 21,-22"],
"South Africa":["17,-28.7 20,-28.4 20,-24.8 23,-25.3 26,-24.7 29.4,-22.2 31.3,-22.4 32,-26 32.8,-26 32.4,-28.5 30.5,-31 27,-33.8 22,-34.2 20,-34.8 18.3,-34 18,-31"],
"Lesotho":["27,-29.6 28.5,-28.6 29.4,-29.5 28,-30.6"],
"Eswatini":["31,-25.8 32,-26 32,-27.2 31,-27"],
"Madagascar":["49.3,-12 50.3,-15.5 49.5,-17 47,-25 45,-25.5 43.5,-22 44.5,-17 47.5,-15"],
"Cape Verde":["-25,17 -24,16.6 -24.5,16.4","-23.7,15.3 -23,15 -23.5,14.9"],
"Australia":["114,-22 117,-20.5 121,-19.5 122.5,-17 125,-14.5 129,-14.9 130.5,-12.3 135,-12 136.7,-12.2 135.5,-15 139.5,-17.5 141.5,-14 142.5,-10.8 145.3,-15 146.5,-19 150,-22.5 153,-25.5 153,-31 150,-37 146.5,-39 143.5,-38.8 140,-38 138,-35 135.5,-34.8 132,-32 126,-32.3 123.5,-34 118,-35 115,-34.3 115.7,-31 113.5,-26","144.7,-40.8 148.3,-40.8 147.5,-43.3 146,-43.5"],
"New Zealand":["172.7,-34.5 175,-37 178.3,-37.7 177,-39.5 175.3,-41.6 174.8,-39.8","172.7,-40.5 174.3,-41.7 171,-45 169,-46.6 166.5,-46 168,-44"],
"Papua New Guinea":["141,-2.6 145,-4.5 148,-8 150.7,-10.5 147,-10 144,-7.7 141,-9.1","148.5,-5.5 152,-4.2 150,-6.3"],
"Solomon Islands":["155,-6 157,-7.2 156,-7.5","157,-7 160,-8 159.5,-8.4","159,-9.5 162,-10.5 161,-10.6"],
"Vanuatu":["166.6,-15 167.2,-15.6 167,-16.2"],
"Fiji":["177.3,-17.5 178.7,-17.8 178,-18.3"],
"New Caledonia":["164,-20.2 167,-22.4 166,-22.4"],
"Small islands":["-61.8,16.3 -61.3,16.2 -61.5,15.9","-61.3,14.8 -60.9,14.5 -61.1,14.4","-61.7,10.7 -61,10.7 -61.3,10.1","-78,25 -77.3,25.1 -77.6,24.4","55.3,-20.9 55.8,-21 55.5,-21.4","57.4,-20 57.8,-20.2 57.5,-20.5","43.3,-11.4 43.5,-11.5 43.4,-11.9","55.4,-4.5 55.6,-4.6 55.5,-4.8","134.4,7.5 134.7,7.5 134.5,7.2","158.1,7 158.4,6.9 158.2,6.7","171,7.2 171.3,7.1 171.1,6.9","173,1.5 173.3,1.4 173.1,1.2","167.9,-0.5 168.1,-0.6 168,-0.7","171.8,-13.8 172.3,-13.6 172.5,-14","-175.2,-21.1 -175,-21.2 -175.1,-21.3","-157.5,2 -157.3,1.9 -157.4,1.8"]
};

const W = 640, H = 640;

// Robinson table, every 5 degrees of latitude
const robLat = d3.range(0, 95, 5);
const robLen = [1,.9986,.9954,.99,.9822,.973,.96,.9427,.9216,.8962,.8679,.835,.7986,.7597,.7186,.6732,.6213,.5722,.5322];
const robPos = [0,.062,.124,.186,.248,.31,.372,.434,.4958,.5571,.6176,.6769,.7346,.7903,.8435,.8936,.9394,.9761,1];
const lenAt = d3.scaleLinear(robLat, robLen);
const posAt = d3.scaleLinear(robLat, robPos);
function robinsonRaw(lam, phi) {
  const deg = Math.abs(phi) * 180 / Math.PI;
  return [0.8487 * lenAt(deg) * lam, 1.3523 * posAt(deg) * Math.sign(phi)];
}
const projection = d3.geoProjection(robinsonRaw).scale(115.4).translate([271, 248]);
// straight lines between projected points, borders along a parallel stay flat
const flat = d3.geoTransform({
  point(x, y) { const p = projection([x, y]); this.stream.point(p[0], p[1]); }
});
const path = d3.geoPath(flat);

const color = d3.scaleThreshold().domain(tickValues).range(["#b2182b"].concat(binColors));

const svg = d3.select("#chart").append("svg").attr("width", W).attr("height", H);

const hatch = svg.append("defs").append("pattern")
    .attr("id", "nodata")
    .attr("patternUnits", "userSpaceOnUse")
    .attr("width", 16).attr("height", 16)
    .attr("patternTransform", "rotate(-45)");
hatch.append("rect").attr("width", 16).attr("height", 16).attr("fill", "#fff");
hatch.append("line").attr("x1", 0).attr("x2", 16).attr("y1", 8).attr("y2", 8)
    .attr("stroke", "#ccc").attr("stroke-width", 2.5);

const rows = [...americas, ...europe, ...asia, ...africa, ...oceania];
const toRing = s => s.split(" ").map(p => p.split(",").map(Number));

svg.append("g").selectAll("path")
  .data(rows)
  .join("path")
    .attr("d", d => path({
      type: "MultiPolygon",
      coordinates: outlines[d[0]].map(s => { const r = toRing(s); return [r.concat([r[0]])]; })
    }))
    .attr("fill", d => d[1] === null ? "url(#nodata)" : color(d[1]))
    .attr("stroke", d => d[1] === null ? "#bbb" : "#666")
    .attr("stroke-width", 0.6)
    .attr("stroke-linejoin", "round");

// legend
const x = d3.scaleLinear().domain([-4, 4]).range([243, 568]);
const legTop = 573, legBottom = 607;
const leg = svg.append("g");

leg.selectAll("rect.bin")
  .data(tickValues.slice(0, -1))
  .join("rect")
    .attr("class", "bin")
    .attr("x", d => x(d)).attr("width", d => x(d + 1) - x(d))
    .attr("y", legTop).attr("height", legBottom - legTop)
    .attr("fill", (d, i) => binColors[i])
    .attr("stroke", "#666").attr("stroke-width", 1);

leg.append("path")
    .attr("d", d3.line()([[x(4), legTop], [590, legTop], [608, (legTop + legBottom) / 2], [590, legBottom], [x(4), legBottom]]) + "Z")
    .attr("fill", binColors[8]).attr("stroke", "#666").attr("stroke-width", 1);

leg.selectAll("line.tick")
  .data(tickValues)
  .join("line")
    .attr("class", "tick")
    .attr("x1", d => x(d)).attr("x2", d => x(d))
    .attr("y1", d => d % 2 === 0 ? 516 : 561).attr("y2", legTop)
    .attr("stroke", "#333").attr("stroke-width", 1);

leg.selectAll("text.tick")
  .data(tickValues)
  .join("text")
    .attr("class", "tick")
    .attr("x", d => x(d)).attr("y", d => d % 2 === 0 ? 503 : 549)
    .attr("text-anchor", "middle")
    .attr("font-size", 42)
    .text(d => d);

leg.append("rect")
    .attr("x", 31).attr("y", legTop).attr("width", 147).attr("height", legBottom - legTop)
    .attr("fill", "url(#nodata)").attr("stroke", "#777").attr("stroke-width", 1);
leg.append("line")
    .attr("x1", 105).attr("x2", 105).attr("y1", 561).attr("y2", legTop)
    .attr("stroke", "#666");
leg.append("text")
    .attr("x", 105).attr("y", 549)
    .attr("text-anchor", "middle")
    .attr("font-size", 42)
    .text(noDataLabel);
</script>
</body>
</html>
